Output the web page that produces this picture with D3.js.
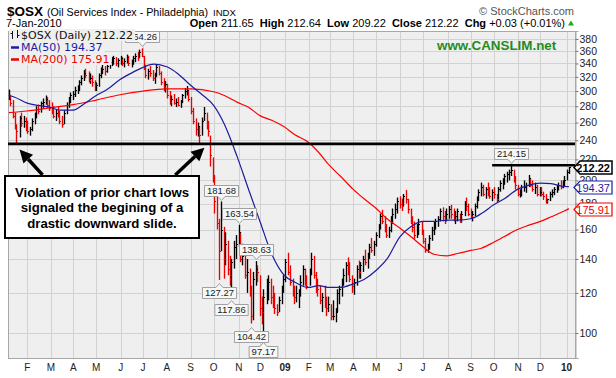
<!DOCTYPE html>
<html>
<head>
<meta charset="utf-8">
<script src="https://cdn.jsdelivr.net/npm/d3@7"></script>
<style>
  body { margin: 0; background: #fff; }
  svg { display: block; font-family: "Liberation Sans", Arial, sans-serif; }
</style>
</head>
<body>
<script>
// ---- data (2 trading days per bar) ----
var endDate = "2010-01-07";

var hi08 = [302,295,288,272,258,268,272,268,266,
  262,255,265,272,280,282,286,290,294,292,288,
  285,280,276,280,274,268,275,285,292,298,
  300,306,308,315,322,330,332,328,325,322,315,
  312,325,334,338,336,340,346,350,352,350,348,
  352,350,348,354,352,346,352,356,358,362,
  364.26,352,338,332,336,330,326,338,336,328,318,314,
  310,300,294,296,290,292,288,296,304,307,
  302,292,278,265,260,256,266,279,272,262,245,
  222,205,190,168,181.68,162,158,152,142,140,152,156,
  163.54,158,150,145,140,134,124,132,138.63,136,
  130,118,122,128,130,128,124,120,114,118,124,130];
var lo08 = [288,280,265,252,237,243,255,254,250,
  247,245,250,258,265,270,272,278,282,278,274,
  270,265,262,266,258,254,258,270,278,284,
  288,292,296,300,308,314,318,312,310,306,300,
  300,306,318,324,322,326,332,336,338,336,334,
  338,336,334,340,336,334,338,342,344,348,
  350,330,318,316,320,314,310,320,322,308,300,298,
  290,282,280,282,279,280,278,284,290,294,
  286,270,258,245,244,237,245,262,252,244,213,
  198,172,160,127.27,145,128,136,130,124,117.86,134,140,
  148,138,136,128,120,118,104.42,106,124,126,
  108,104,97.17,114,116,114,112,109,108,110,114,120];
var cl08 = [290,284,268,255,250,265,260,262,258,
  250,252,262,270,276,274,284,286,290,282,278,
  276,268,272,270,262,258,272,282,288,294,
  296,302,304,312,318,326,322,316,318,312,308,
  308,322,330,332,328,336,342,344,348,340,345,
  348,340,344,350,340,342,348,352,350,358,
  352,334,322,328,326,318,322,334,326,312,306,310,
  294,286,290,284,286,282,285,294,300,302,
  290,274,262,252,256,246,262,272,258,250,224,
  200,182,165,145,160,140,150,134,130,138,148,150,
  158,140,142,130,132,122,108,128,134,132,
  112,110,118,124,126,118,116,112,110,116,122,128];

var hi09 = [140,144,136,128,124,124,122,130,136,134,130,
  134,144,142,132,128,124,120,124,118,118,
  114,116,112,122,124,128,134,138,141,138,130,
  128,136,139,138,142,146,144,150,154,152,158,
  164,172,175,170,164,162,170,176,180,185,
  186,184,188,191.5,184,176,170,166,164,168,166,
  160,154,150,156,162,166,168,170,176,177,174,176,
  178,179,176,174,176,172,174,182,185,180,176,
  174,180,186,192,198,196,194,198,194,192,194,
  188,194,200,202,206,208,210,214.15,210,204,196,
  192,196,200,198,205,202,200,198,196,194,
  194,190,188,184,190,192,194,196,198,200,200,204];
var lo09 = [126,130,124,118,114,115,112,118,124,124,122,
  124,130,128,120,118,114,110,112,108,110,
  106,106,105,110,114,118,124,126,130,126,120,
  119,124,128,128,132,136,134,140,144,142,148,
  154,160,164,158,154,154,158,164,168,172,
  176,174,178,180,172,164,158,153,154,156,156,
  150,144,144,146,152,156,160,162,166,166,164,166,
  168,168,166,164,166,165,165,170,174,170,168,
  166,170,176,182,186,186,184,186,184,182,184,
  180.5,182,190,192,196,198,200,204,198,192,186,
  185,186,190,189,194,194,190,188,186,186,
  186,183,180,180,182,185,187,189,191,192,193,195];
var cl09 = [138,132,126,122,118,120,120,126,134,126,124,
  132,140,130,124,122,116,118,114,112,114,
  108,108,110,120,122,126,130,136,132,128,124,
  126,134,132,136,140,138,142,148,146,150,156,
  162,170,166,160,156,160,168,172,176,182,
  180,178,186,184,176,168,162,156,160,164,158,
  152,146,148,154,160,164,166,168,174,170,168,172,
  176,172,168,170,174,166,172,180,178,172,170,
  172,178,184,190,194,188,192,190,186,190,188,
  184,192,198,200,204,206,208,210,200,196,188,
  190,194,194,196,202,196,192,194,188,190,
  188,186,182,184,188,190,192,194,196,194,198,200];

var hi10 = [210,212.64];
var lo10 = [200,206];
var cl10 = [208,212.22];

var ma50Dates = ["2008-01-08","2008-01-15","2008-02-01","2008-02-15","2008-03-01","2008-03-15",
  "2008-04-01","2008-04-15","2008-05-01","2008-05-15","2008-06-01","2008-06-15",
  "2008-07-01","2008-07-15","2008-08-01","2008-08-15","2008-09-01","2008-09-15",
  "2008-10-01","2008-10-15","2008-11-01","2008-11-15","2008-12-01","2008-12-15",
  "2009-01-01","2009-01-15","2009-02-01","2009-02-15","2009-03-01","2009-03-15",
  "2009-04-01","2009-04-15","2009-05-01","2009-05-15","2009-06-01","2009-06-15",
  "2009-07-01","2009-07-15","2009-08-01","2009-08-15","2009-09-01","2009-09-15",
  "2009-10-01","2009-10-15","2009-11-01","2009-11-15","2009-12-01","2009-12-15",
  "2010-01-01","2010-01-07"];
var ma50Vals = [294,292,284,281,279,275,275,283,294,302,316,325,
  334,339,335,325,308,296,281,258,222,193,165,144,
  130,126,123,124,123,123,125,127.5,133,140,155,162,
  166,166,167,167,168,172,179,184,192,195.5,197.5,197,
  194.5,194.37];

var ma200Dates = ["2008-01-08","2008-02-01","2008-03-01","2008-04-01","2008-05-01","2008-06-01",
  "2008-07-01","2008-08-01","2008-09-01","2008-10-01","2008-10-15","2008-11-01",
  "2008-11-15","2008-12-01","2008-12-15","2009-01-01","2009-01-15","2009-02-01",
  "2009-02-15","2009-03-01","2009-03-15","2009-04-01","2009-04-15","2009-05-01",
  "2009-05-15","2009-06-01","2009-06-15","2009-07-01","2009-07-15","2009-08-01",
  "2009-08-15","2009-09-01","2009-09-15","2009-10-01","2009-10-15","2009-11-01",
  "2009-11-15","2009-12-01","2009-12-15","2010-01-01","2010-01-07"];
var ma200Vals = [272,274,278,282,288,295,300,303,303,299,294,285,
  279,268,263,255,246,238,227,214,204,192,184,176,
  168,161,155,148,143,142,143.5,145.5,147,151,155,160,
  163,166,169.5,174,175.91];

var yTicks = [100,120,140,160,180,200,220,240,260,280,300,320,340,360,380];
var monthLetters = ["J","F","M","A","M","J","J","A","S","O","N","D"];

var peakLabels = [364.26, 214.15, 181.68, 163.54, 138.63];
var troughLabels = [127.27, 117.86, 104.42, 97.17];

var supportLevel = 236;
var resistLevel = 214.15;
var resistStart = "2009-09-29";

// arrows of the callout: tail date/value -> tip date/value
var arrowTails = [["2008-02-21", 205], ["2008-08-12", 205]];
var arrowTips = [["2008-01-22", 230], ["2008-09-19", 232]];
var calloutLines = ["Violation of prior chart lows", "signaled the begining of a", "drastic downward slide."];

// ---- chart params ----
var svgWidth = 616;
var svgHeight = 378;
var plot = { left: 8, right: 575, top: 31, bottom: 358 };
var red = "#ee0000";
var blue = "#1c1ca0";

var svg = d3.select("body")
  .append("svg")
  .attr("width", svgWidth)
  .attr("height", svgHeight);

var parseDate = d3.timeParse("%Y-%m-%d");

var hi = hi08.concat(hi09, hi10);
var lo = lo08.concat(lo09, lo10);
var cl = cl08.concat(cl09, cl10);

// bar dates: every second weekday, counted back from the last bar
var dates = [];
var d = parseDate(endDate);
while (dates.length < hi.length) {
  dates.unshift(d);
  var k = 0;
  while (k < 2) {
    d = d3.timeDay.offset(d, -1);
    if (d.getDay() !== 0 && d.getDay() !== 6) k++;
  }
}

var x = d3.scaleTime()
  .domain([parseDate("2008-01-07"), parseDate("2010-01-15")])
  .range([plot.left, plot.right]);

var y = d3.scaleLog()
  .domain([89.3, 394])
  .range([plot.bottom, plot.top]);

// month ticks on the first trading day of each month
var monthTicks = d3.timeMonth.range(parseDate("2008-02-01"), parseDate("2010-01-31")).map(function(m) {
  var t = m;
  while (t.getDay() === 0 || t.getDay() === 6 || (t.getMonth() === 0 && t.getDate() === 1)) {
    t = d3.timeDay.offset(t, 1);
  }
  return t;
});

function px(v) { return Math.round(v) + 0.5; }

// plot background + grid
svg.append("rect")
  .attr("x", plot.left).attr("y", plot.top)
  .attr("width", plot.right - plot.left).attr("height", plot.bottom - plot.top)
  .attr("fill", "#efefef");

var grid = svg.append("g").attr("stroke", "#d2d2d2").attr("stroke-width", 1);
grid.selectAll(".hg").data(yTicks).enter().append("line")
  .attr("x1", plot.left).attr("x2", plot.right)
  .attr("y1", d => px(y(d))).attr("y2", d => px(y(d)));
grid.selectAll(".vg").data(monthTicks).enter().append("line")
  .attr("y1", plot.top).attr("y2", plot.bottom)
  .attr("x1", d => px(x(d))).attr("x2", d => px(x(d)));

svg.append("rect")
  .attr("x", plot.left + 0.5).attr("y", plot.top + 0.5)
  .attr("width", plot.right - plot.left).attr("height", plot.bottom - plot.top)
  .attr("fill", "none").attr("stroke", "#a8a8a8");

// price bars
var barGroup = svg.append("g");
var barColor = (d, i) => (i > 0 && cl[i] < cl[i - 1]) ? red : "#000";
barGroup.selectAll(".bar").data(dates).enter().append("line")
  .attr("x1", d => px(x(d))).attr("x2", d => px(x(d)))
  .attr("y1", (d, i) => y(hi[i])).attr("y2", (d, i) => y(lo[i]))
  .attr("stroke", barColor).attr("stroke-width", 1.35);
barGroup.selectAll(".tick").data(dates).enter().append("line")
  .attr("x1", d => px(x(d))).attr("x2", d => px(x(d)) + 1.5)
  .attr("y1", (d, i) => px(y(cl[i]))).attr("y2", (d, i) => px(y(cl[i])))
  .attr("stroke", barColor).attr("stroke-width", 1);

// moving averages
var maLine = d3.line()
  .x(d => x(parseDate(d[0])))
  .y(d => y(d[1]))
  .curve(d3.curveMonotoneX);

svg.append("path")
  .datum(d3.zip(ma200Dates, ma200Vals))
  .attr("d", maLine)
  .attr("fill", "none").attr("stroke", "#f00").attr("stroke-width", 1.2);

svg.append("path")
  .datum(d3.zip(ma50Dates, ma50Vals))
  .attr("d", maLine)
  .attr("fill", "none").attr("stroke", blue).attr("stroke-width", 1.2);

// support / resistance lines
svg.append("line")
  .attr("x1", plot.left).attr("x2", plot.right)
  .attr("y1", y(supportLevel)).attr("y2", y(supportLevel))
  .attr("stroke", "#000").attr("stroke-width", 2.6);

svg.append("line")
  .attr("x1", x(parseDate(resistStart))).attr("x2", plot.right)
  .attr("y1", y(resistLevel)).attr("y2", y(resistLevel))
  .attr("stroke", "#000").attr("stroke-width", 2.6);

// price labels with pointers
function priceTag(idx, value, isPeak) {
  var cx = px(x(dates[idx]));
  var py = y(value);
  var g = svg.append("g");
  var t = g.append("text")
    .attr("x", cx).attr("text-anchor", "middle")
    .attr("font-size", "9.5px").attr("fill", "#222")
    .text(value.toFixed(2));
  var w = t.node().getComputedTextLength() + 5;
  var h = 11;
  var top, path;
  if (isPeak) {
    var bottom = Math.round(py - 6) + 0.5;
    top = bottom - h;
    path = `M${cx - w / 2},${top}H${cx + w / 2}V${bottom}H${cx + 3.5}L${cx},${bottom + 4}L${cx - 3.5},${bottom}H${cx - w / 2}Z`;
  } else {
    top = Math.round(py + 7) + 0.5;
    path = `M${cx - w / 2},${top}H${cx - 3.5}L${cx},${top - 4}L${cx + 3.5},${top}H${cx + w / 2}V${top + h}H${cx - w / 2}Z`;
  }
  g.insert("path", "text").attr("d", path)
    .attr("fill", "#f7f7f7").attr("stroke", "#a0a0a0").attr("stroke-width", 1);
  t.attr("y", top + 8.7);
}

peakLabels.forEach(v => priceTag(hi.indexOf(v), v, true));
troughLabels.forEach(v => priceTag(lo.indexOf(v), v, false));

// legend (top-left, inside plot)
var legend = svg.append("g").attr("font-family", "'DejaVu Sans', Verdana, sans-serif").attr("font-size", "11px");
var legendRows = [
  { text: "$OSX (Daily) " + cl[cl.length - 1].toFixed(2), color: "#111", y: 39 },
  { text: "MA(50) " + ma50Vals[ma50Vals.length - 1].toFixed(2), color: blue, y: 51 },
  { text: "MA(200) " + ma200Vals[ma200Vals.length - 1].toFixed(2), color: "#e00", y: 63 }
];
legendRows.forEach(function(r, i) {
  var bg = legend.append("rect").attr("fill", "#efefef");
  var t = legend.append("text").attr("x", 21).attr("y", r.y).attr("fill", r.color).text(r.text);
  var w = t.node().getComputedTextLength();
  bg.attr("x", 9).attr("y", r.y - 10).attr("width", w + 14).attr("height", 12);
  if (i === 0) {
    // small OHLC icon
    var ic = legend.append("g").attr("stroke", "#111").attr("stroke-width", 1);
    ic.append("line").attr("x1", 12.5).attr("x2", 12.5).attr("y1", r.y - 8).attr("y2", r.y);
    ic.append("line").attr("x1", 10.5).attr("x2", 12.5).attr("y1", r.y - 5.5).attr("y2", r.y - 5.5);
    ic.append("line").attr("x1", 17.5).attr("x2", 17.5).attr("y1", r.y - 9).attr("y2", r.y - 1);
    ic.append("line").attr("x1", 17.5).attr("x2", 19.5).attr("y1", r.y - 3.5).attr("y2", r.y - 3.5);
  } else {
    legend.append("line").attr("x1", 11).attr("x2", 19).attr("y1", r.y - 3.5).attr("y2", r.y - 3.5)
      .attr("stroke", r.color).attr("stroke-width", 2.5);
  }
});

svg.append("text")
  .attr("x", 437).attr("y", 50)
  .attr("font-size", "13.4px").attr("font-weight", "bold").attr("fill", "#1f8c1f")
  .text("www.CANSLIM.net");

// right axis
var rightAxis = d3.axisRight(y).tickValues(yTicks).tickSize(3).tickPadding(1).tickFormat(d3.format("d"));
var ax = svg.append("g")
  .attr("transform", `translate(${plot.right + 0.5}, 0)`)
  .call(rightAxis);
ax.select(".domain").attr("stroke", "#a8a8a8");
ax.selectAll(".tick line").attr("stroke", "#777");
ax.selectAll("text").attr("font-size", "10.5px").attr("fill", "#222")
  .attr("font-family", "'Liberation Sans', Arial, sans-serif");

// bottom month labels
svg.selectAll(".mlab").data(monthTicks).enter().append("text")
  .attr("x", d => x(d)).attr("y", 371)
  .attr("text-anchor", "middle")
  .attr("font-size", "10px")
  .attr("font-weight", d => d.getMonth() === 0 ? "bold" : "normal")
  .attr("fill", "#222")
  .text(d => d.getMonth() === 0 ? d3.timeFormat("%y")(d) : monthLetters[d.getMonth()]);

// last value tags on the right
function valueTag(value, color, bold) {
  var ty = Math.round(y(value)) + 0.5;
  var x0 = plot.right - 1, x1 = 612;
  svg.append("path")
    .attr("d", `M${x0},${ty}L${x0 + 6},${ty - 6.5}H${x1}V${ty + 6.5}H${x0 + 6}Z`)
    .attr("fill", "#fff").attr("stroke", color).attr("stroke-width", bold ? 1.5 : 1.2);
  svg.append("text")
    .attr("x", x1 - 2).attr("y", ty + 4).attr("text-anchor", "end")
    .attr("font-size", "11px").attr("font-weight", bold ? "bold" : "normal")
    .attr("fill", color).text(value.toFixed(2));
}
valueTag(ma200Vals[ma200Vals.length - 1], "#e00", false);
valueTag(ma50Vals[ma50Vals.length - 1], blue, false);
valueTag(cl[cl.length - 1], "#000", true);

// callout box and arrows
var callout = svg.append("g");
callout.append("rect")
  .attr("x", 5).attr("y", 176).attr("width", 194).attr("height", 62)
  .attr("fill", "#fff").attr("stroke", "#000").attr("stroke-width", 2);
callout.selectAll(".cl").data(calloutLines).enter().append("text")
  .attr("x", 102).attr("y", (d, i) => 196.5 + i * 15.5)
  .attr("text-anchor", "middle")
  .attr("font-size", "13.2px").attr("font-weight", "bold").attr("fill", "#000")
  .text(d => d);

arrowTails.forEach(function(tail, i) {
  var x0 = x(parseDate(tail[0])), y0 = y(tail[1]);
  var x1 = x(parseDate(arrowTips[i][0])), y1 = y(arrowTips[i][1]);
  var dx = x1 - x0, dy = y1 - y0, len = Math.sqrt(dx * dx + dy * dy);
  var ux = dx / len, uy = dy / len;
  var hl = 13, hw = 6.5;
  var bx = x1 - ux * hl, by = y1 - uy * hl;
  callout.append("line")
    .attr("x1", x0).attr("y1", y0).attr("x2", bx).attr("y2", by)
    .attr("stroke", "#000").attr("stroke-width", 3.5);
  callout.append("path")
    .attr("d", `M${x1},${y1}L${bx - uy * hw},${by + ux * hw}L${bx + uy * hw},${by - ux * hw}Z`)
    .attr("fill", "#000");
});

// header texts
var head = svg.append("g").attr("fill", "#000");
head.append("text").attr("x", 7).attr("y", 16)
  .attr("font-size", "13.5px").attr("font-weight", "bold").text("$OSX");
head.append("text").attr("x", 47).attr("y", 15.5)
  .attr("font-size", "10.7px").text("(Oil Services Index - Philadelphia)");
head.append("text").attr("x", 213).attr("y", 15.5)
  .attr("font-size", "9.6px").text("INDX");
head.append("text").attr("x", 6).attr("y", 27)
  .attr("font-size", "11px").text("7-Jan-2010");

var quote = head.append("text").attr("x", 565).attr("y", 27)
  .attr("text-anchor", "end").attr("font-size", "11px");
[["Open ", true], ["211.65  ", false], ["High ", true], ["212.64  ", false],
 ["Low ", true], ["209.22  ", false], ["Close ", true], ["212.22  ", false],
 ["Chg ", true], ["+0.03 (+0.01%)", false]].forEach(function(p) {
  quote.append("tspan").attr("font-weight", p[1] ? "bold" : "normal")
    .attr("xml:space", "preserve").text(p[0]);
});
quote.attr("xml:space", "preserve");

svg.append("path")
  .attr("d", "M568,25.5L571,20.5L574,25.5Z")
  .attr("fill", "#22aa22");

svg.append("text")
  .attr("x", 574).attr("y", 15).attr("text-anchor", "end")
  .attr("font-size", "11px").attr("fill", "#555")
  .text("\u00a9 StockCharts.com");
</script>
</body>
</html>
